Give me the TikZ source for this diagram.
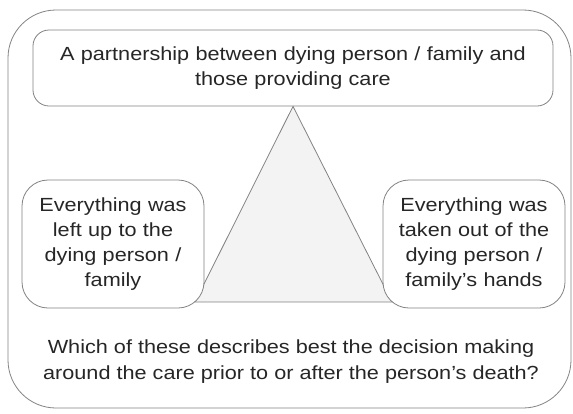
\documentclass[tikz,border=0pt]{standalone}
\usepackage{fontspec}
\setmainfont[FakeStretch=1.14]{Liberation Sans}
\usepackage{xcolor}

\definecolor{edge}{RGB}{130,130,130}
\definecolor{shade}{RGB}{243,243,243}

\begin{document}
\begin{tikzpicture}[x=1pt, y=-1pt,
	option/.style={draw=edge, line width=0.8pt, fill=white, align=center, inner sep=0pt, text=black!85, font=\fontsize{19}{25}\selectfont},
	sidebox/.style={option, rounded corners=26pt, minimum width=182pt, minimum height=128pt, text width=175pt}]
	\useasboundingbox (0, 0) rectangle (573, 413);

	% Outer frame
	\draw[edge, line width=0.8pt, rounded corners=48pt] (8, 10) rectangle (571, 408);

	\node[option, rounded corners=16pt, minimum width=520pt, minimum height=76pt, text width=515pt] (top) at (293, 68)
		{A partnership between dying person / family and\\ those providing care};

	% Triangle between the three options
	\coordinate (tl) at (195, 302);
	\coordinate (tr) at (392, 302);
	\draw[edge, line width=0.8pt, fill=shade] (top.south) -- (tl) -- (tr) -- cycle;

	\node[sidebox] (left) at (113, 244) {Everything was\\ left up to the\\ dying person /\\ family};
	\node[sidebox] (right) at (474, 244) {Everything was\\ taken out of the\\ dying person /\\ family's hands};

	\node[align=center, inner sep=0pt, text=black!85, font=\fontsize{19}{26}\selectfont] (question) at (291, 362)
		{Which of these describes best the decision making\\ around the care prior to or after the person's death?};
\end{tikzpicture}
\end{document}
